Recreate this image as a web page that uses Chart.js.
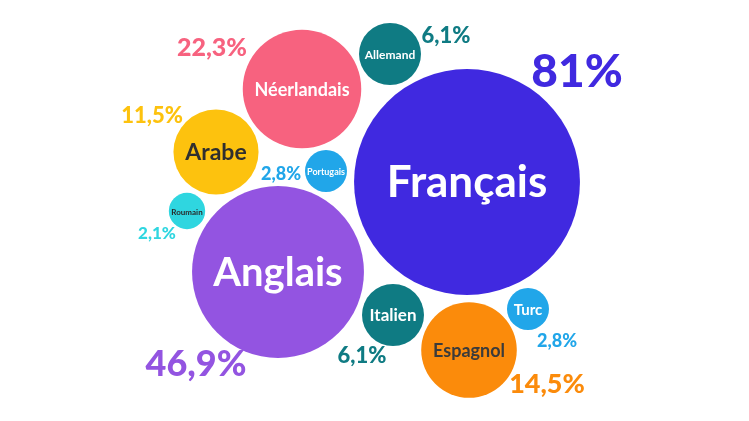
<!DOCTYPE html>
<html>
<head>
<meta charset="utf-8">
<script src="https://cdn.jsdelivr.net/npm/chart.js@4/dist/chart.umd.min.js"></script>
<style>
html,body{margin:0;padding:0;background:#fff;}
#wrap{width:749px;height:421px;}
</style>
</head>
<body>
<div id="wrap"><canvas id="c" width="749" height="421"></canvas></div>
<script>
// ---- data ----
const languages = ['Français','Anglais','Néerlandais','Espagnol','Arabe','Allemand','Italien','Portugais','Turc','Roumain'];
const shares    = [81, 46.9, 22.3, 14.5, 11.5, 6.1, 6.1, 2.8, 2.8, 2.1];
const shareLabels = ['81%','46,9%','22,3%','14,5%','11,5%','6,1%','6,1%','2,8%','2,8%','2,1%'];

// ---- layout (packing positions, in layout units) ----
const centerX = [467, 278, 302, 469, 216, 390, 393, 326, 528, 187];
const centerY = [182, 272, 89, 350, 152, 54, 315, 171, 309, 211];
const pctX    = [577, 196, 212, 547, 152, 446, 362, 281, 557, 157];
const pctY    = [72, 364, 48, 384, 116, 36, 356, 174, 341, 234];

// ---- styles ----
const colors    = ['#4029e0','#9354e1','#f7627f','#fb8b0b','#fdc20e','#0f7b83','#0f7b83','#21a6e9','#21a6e9','#2fd6e0'];
const pctColors = ['#4029e0','#9354e1','#f7627f','#fb8b0b','#fdc20e','#0f7b83','#0f7b83','#21a6e9','#21a6e9','#2fd6e0'];
const nameColors= ['#ffffff','#ffffff','#ffffff','#3b3b3b','#2f2f2f','#ffffff','#ffffff','#ffffff','#ffffff','#2a2a2a'];
const nameSizes = [44, 40, 18, 18, 23, 12, 17, 9, 15, 8];
const pctSizes  = [46, 36, 25, 27, 22, 22, 22, 18, 18, 17];
const radiusPerSqrt = 12.55;

const labelPlugin = {
  id: 'labels',
  afterDatasetsDraw(chart) {
    const ctx = chart.ctx;
    const xs = chart.scales.x, ys = chart.scales.y;
    ctx.save();
    ctx.textAlign = 'center';
    ctx.textBaseline = 'middle';
    languages.forEach((name, i) => {
      const cx = xs.getPixelForValue(centerX[i]);
      const cy = ys.getPixelForValue(centerY[i]);
      ctx.font = 'bold ' + nameSizes[i] + 'px Lato';
      ctx.fillStyle = nameColors[i];
      ctx.fillText(name, cx, cy + 1);
      ctx.font = '900 ' + pctSizes[i] + 'px Lato';
      ctx.fillStyle = pctColors[i];
      ctx.fillText(shareLabels[i], xs.getPixelForValue(pctX[i]), ys.getPixelForValue(pctY[i]));
    });
    ctx.restore();
  }
};

new Chart(document.getElementById('c'), {
  type: 'bubble',
  data: {
    labels: languages,
    datasets: [{
      data: languages.map((l, i) => ({ x: centerX[i], y: centerY[i], v: shares[i] })),
      backgroundColor: colors,
      borderWidth: 0,
      radius: ctx => radiusPerSqrt * Math.sqrt(ctx.raw ? ctx.raw.v : 0),
      hoverRadius: 0,
      clip: false
    }]
  },
  options: {
    responsive: false,
    animation: false,
    layout: { padding: 0, autoPadding: false },
    plugins: { legend: { display: false }, tooltip: { enabled: false } },
    scales: {
      x: { type: 'linear', min: 0, max: 749, display: false },
      y: { type: 'linear', min: 0, max: 421, reverse: true, display: false }
    }
  },
  plugins: [labelPlugin]
});
</script>
</body>
</html>
